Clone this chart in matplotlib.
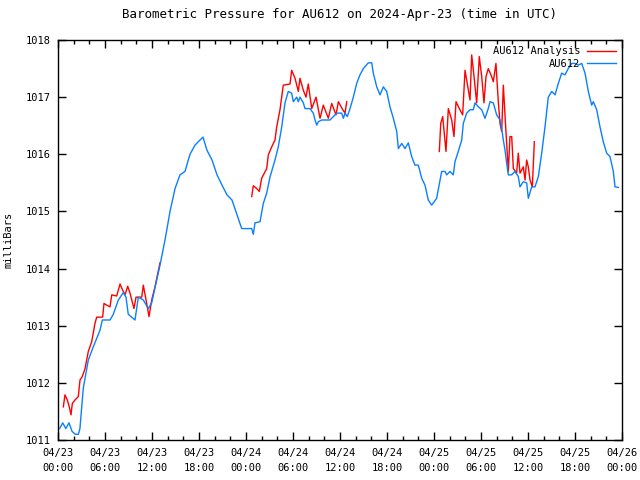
import matplotlib
matplotlib.use("Agg")
import matplotlib.pyplot as plt
import numpy as np

# hours since 2024-04-23 00:00 UTC, pressure in mbar
obs_hours = [0.2, 0.6, 1.0, 1.4, 1.8, 2.2, 2.6, 2.8, 3.03, 3.23, 3.87, 4.5, 5.36, 5.66,
             6.64, 7.06, 7.7, 8.34, 8.68, 8.97, 9.83, 10.25, 10.89, 11.53, 11.96, 12.6,
             13.02, 13.66, 14.3, 14.94, 15.57, 16.21, 16.85, 17.49, 18.13, 18.51, 19.02,
             19.66, 20.3, 20.94, 21.57, 22.21, 22.85, 23.45, 24.73, 24.93, 25.15, 25.79,
             26.21, 26.64, 27.06, 27.7, 28.12, 28.56, 28.98, 29.4, 29.83, 30.04, 30.47,
             30.68, 30.89, 31.32, 31.53, 32.17, 32.59, 32.81, 33.03, 33.23, 33.66, 34.72,
             35.15, 35.58, 36.22, 36.43, 36.64, 36.93, 37.28, 37.7, 38.13, 38.55, 38.98,
             39.61, 40.05, 40.25, 40.69, 41.11, 41.53, 41.96, 42.38, 42.81, 43.24, 43.45,
             43.88, 44.3, 44.72, 45.15, 45.57, 46.0, 46.43, 46.85, 47.27, 47.7, 48.34,
             48.77, 48.98, 49.4, 49.62, 50.04, 50.46, 50.68, 51.1, 51.54, 51.74, 52.17,
             52.6, 53.02, 53.23, 53.66, 54.09, 54.51, 54.93, 55.15, 55.57, 56.0, 56.43,
             56.64, 56.85, 57.06, 57.28, 57.49, 57.92, 58.34, 58.76, 58.98, 59.4, 59.83,
             60.04, 60.47, 60.89, 61.32, 61.75, 62.17, 62.59, 63.03, 63.45, 63.87, 64.3,
             64.72, 65.14, 65.58, 66.0, 66.42, 66.86, 67.28, 67.7, 68.13, 68.34, 68.77,
             69.19, 69.61, 70.04, 70.47, 70.89, 71.11, 71.53]
obs_press = [1011.2, 1011.3, 1011.2, 1011.3, 1011.15, 1011.1, 1011.1, 1011.2, 1011.58,
             1011.91, 1012.4, 1012.63, 1012.92, 1013.1, 1013.1, 1013.2, 1013.45, 1013.58,
             1013.5, 1013.2, 1013.1, 1013.5, 1013.45, 1013.3, 1013.4, 1013.8, 1014.06,
             1014.5, 1015.0, 1015.4, 1015.64, 1015.7, 1016.0, 1016.16, 1016.25, 1016.3,
             1016.07, 1015.9, 1015.64, 1015.46, 1015.29, 1015.2, 1014.94, 1014.7, 1014.7,
             1014.6, 1014.8, 1014.82, 1015.14, 1015.32, 1015.6, 1015.9, 1016.13, 1016.48,
             1016.9, 1017.1, 1017.07, 1016.92, 1017.0, 1016.92, 1017.0, 1016.9, 1016.8,
             1016.8, 1016.72, 1016.6, 1016.51, 1016.57, 1016.6, 1016.6, 1016.66, 1016.72,
             1016.72, 1016.63, 1016.72, 1016.66, 1016.8, 1017.0, 1017.24, 1017.39, 1017.5,
             1017.6, 1017.6, 1017.42, 1017.18, 1017.04, 1017.18, 1017.1, 1016.83, 1016.63,
             1016.4, 1016.1, 1016.19, 1016.1, 1016.2, 1015.96, 1015.81, 1015.81, 1015.58,
             1015.46, 1015.2, 1015.11, 1015.23, 1015.55, 1015.7, 1015.7, 1015.64, 1015.7,
             1015.64, 1015.87, 1016.05, 1016.25, 1016.54, 1016.72, 1016.78, 1016.78,
             1016.9, 1016.83, 1016.78, 1016.63, 1016.8, 1016.92, 1016.9, 1016.69, 1016.6,
             1016.45, 1016.25, 1016.08, 1015.84, 1015.64, 1015.64, 1015.7, 1015.61,
             1015.43, 1015.52, 1015.5, 1015.23, 1015.43, 1015.43, 1015.61, 1016.02,
             1016.48, 1017.0, 1017.1, 1017.04, 1017.24, 1017.42, 1017.39, 1017.5, 1017.59,
             1017.59, 1017.56, 1017.59, 1017.42, 1017.1, 1016.86, 1016.92, 1016.78,
             1016.48, 1016.22, 1016.02, 1015.96, 1015.7, 1015.43, 1015.42]

# analysis series, three separate runs
ana1_hours = [0.68, 0.89, 1.19, 1.44, 1.66, 1.83, 2.17, 2.59, 2.81, 3.1, 3.45, 3.87, 4.3,
              4.72, 4.94, 5.7, 5.87, 6.22, 6.64, 6.86, 7.49, 7.92, 8.26, 8.55, 8.9, 9.19,
              9.7, 9.96, 10.69, 10.89, 11.32, 11.62, 11.96, 12.38, 12.64, 13.02]
ana1_press = [1011.58, 1011.79, 1011.7, 1011.58, 1011.44, 1011.64, 1011.7, 1011.76,
              1012.05, 1012.11, 1012.25, 1012.55, 1012.72, 1013.04, 1013.15, 1013.15,
              1013.39, 1013.36, 1013.33, 1013.54, 1013.52, 1013.73, 1013.62, 1013.54,
              1013.69, 1013.57, 1013.3, 1013.5, 1013.5, 1013.71, 1013.39, 1013.16,
              1013.45, 1013.68, 1013.85, 1014.1]

ana2_hours = [24.73, 24.93, 25.37, 25.7, 26.0, 26.64, 26.85, 27.28, 27.7, 27.92, 28.34,
              28.76, 29.62, 29.83, 30.26, 30.68, 30.89, 31.32, 31.66, 31.95, 32.39, 32.94,
              33.45, 33.87, 34.51, 34.94, 35.49, 35.79, 36.35, 36.64, 36.86]
ana2_press = [1015.26, 1015.45, 1015.4, 1015.35, 1015.58, 1015.75, 1015.99, 1016.13,
              1016.25, 1016.48, 1016.78, 1017.21, 1017.23, 1017.47, 1017.33, 1017.1,
              1017.33, 1017.12, 1017.0, 1017.23, 1016.8, 1017.0, 1016.63, 1016.86,
              1016.63, 1016.89, 1016.69, 1016.92, 1016.78, 1016.72, 1016.92]

ana3_hours = [48.68, 48.86, 49.11, 49.53, 49.83, 50.26, 50.55, 50.81, 51.23, 51.66, 51.96,
              52.17, 52.6, 52.81, 53.11, 53.45, 53.78, 54.09, 54.38, 54.64, 54.93, 55.36,
              55.57, 55.91, 56.21, 56.43, 56.64, 56.85, 57.15, 57.49, 57.7, 57.92, 58.13,
              58.55, 58.76, 58.98, 59.4, 59.62, 59.83, 60.04, 60.26, 60.55, 60.81]
ana3_press = [1016.05, 1016.54, 1016.66, 1016.05, 1016.8, 1016.6, 1016.31, 1016.92,
              1016.8, 1016.69, 1017.47, 1017.3, 1016.95, 1017.74, 1017.36, 1016.9,
              1017.71, 1017.36, 1016.9, 1017.36, 1017.5, 1017.36, 1017.27, 1017.59,
              1016.92, 1016.54, 1016.4, 1017.21, 1016.48, 1015.7, 1016.31, 1016.31,
              1015.75, 1015.67, 1016.02, 1015.67, 1015.78, 1015.55, 1015.9, 1015.78,
              1015.55, 1015.43, 1016.22]

tick_hours = list(range(0, 73, 6))
tick_labels = ["04/23\n00:00", "04/23\n06:00", "04/23\n12:00", "04/23\n18:00",
               "04/24\n00:00", "04/24\n06:00", "04/24\n12:00", "04/24\n18:00",
               "04/25\n00:00", "04/25\n06:00", "04/25\n12:00", "04/25\n18:00",
               "04/26\n00:00"]

plt.rcParams["font.family"] = "DejaVu Sans Mono"
plt.rcParams["font.size"] = 7.5

fig = plt.figure(figsize=(6.4, 4.8), dpi=100)
ax = fig.add_axes([58 / 640, 40 / 480, 564 / 640, 400 / 480])

red = "#ff0000"
blue = "#0a7fff"
ax.plot(ana1_hours, ana1_press, color=red, lw=1, label="AU612 Analysis")
ax.plot(ana2_hours, ana2_press, color=red, lw=1)
ax.plot(ana3_hours, ana3_press, color=red, lw=1)
ax.plot(obs_hours, obs_press, color=blue, lw=1, label="AU612")

ax.set_xlim(0, 72)
ax.set_ylim(1011, 1018)
ax.set_xticks(tick_hours)
ax.set_xticklabels(tick_labels, linespacing=1.55)
ax.set_xticks(np.arange(0, 73, 2), minor=True)
ax.set_yticks(np.arange(1011, 1019, 1))
ax.set_yticklabels([str(v) for v in range(1011, 1019)])

ax.tick_params(which="both", direction="in", top=True, right=True, width=1)
ax.tick_params(which="major", length=6)
ax.tick_params(axis="x", which="major", pad=6)
ax.tick_params(axis="y", which="major", pad=5)
ax.tick_params(which="minor", length=3)
for s in ax.spines.values():
    s.set_linewidth(1)

ax.set_ylabel("milliBars", labelpad=9)
ax.set_title("Barometric Pressure for AU612 on 2024-Apr-23 (time in UTC)", pad=16)

ax.legend(loc="upper right", frameon=False, markerfirst=False, handlelength=2.8,
          borderaxespad=0.2, labelspacing=0.25, handletextpad=0.6)

plt.savefig("out.png", dpi=100)
plt.close()
